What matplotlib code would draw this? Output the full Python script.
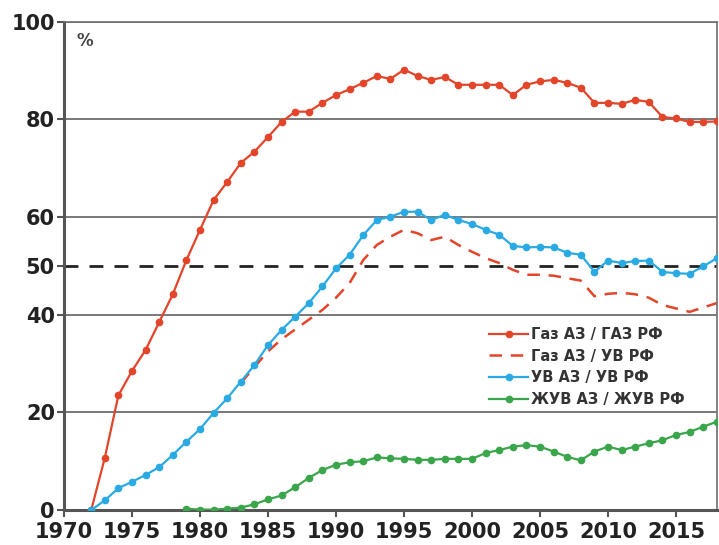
import matplotlib.pyplot as plt
from matplotlib.ticker import FixedLocator

plt.rcParams['font.family'] = ['DejaVu Sans']
plt.rcParams['font.weight'] = 'bold'

# Газ АЗ / ГАЗ РФ
gas_years = list(range(1972, 2019))
gas_gas = [0, 10.7, 23.5, 28.5, 32.8, 38.5, 44.2, 51.2, 57.4, 63.5, 67.2, 71.1, 73.4,
           76.4, 79.5, 81.6, 81.6, 83.4, 85.0, 86.2, 87.5, 88.9, 88.3, 90.2, 88.9,
           88.1, 88.7, 87.1, 87.1, 87.1, 87.1, 85.0, 87.1, 87.8, 88.1, 87.5, 86.5,
           83.4, 83.4, 83.2, 84.0, 83.6, 80.5, 80.2, 79.5, 79.5, 79.6]

# Газ АЗ / УВ РФ
gas_hc_years = list(range(1983, 2019))
gas_hc = [26.0, 29.3, 32.5, 35.0, 37.0, 39.0, 41.0, 43.5, 46.5, 51.2, 54.3, 56.0,
          57.4, 56.7, 55.3, 56.0, 54.3, 52.9, 51.6, 50.6, 49.2, 48.2, 48.2, 48.0,
          47.5, 47.0, 43.8, 44.3, 44.5, 44.2, 43.5, 42.0, 41.3, 40.6, 41.5, 42.4]

# УВ АЗ / УВ РФ
hc_years = list(range(1972, 2019))
hc_hc = [0, 2.0, 4.5, 5.8, 7.2, 8.8, 11.3, 14.0, 16.6, 19.9, 22.9, 26.3, 29.7,
         33.8, 36.9, 39.6, 42.4, 45.8, 49.5, 52.3, 56.3, 59.4, 60.1, 61.1, 61.1,
         59.4, 60.5, 59.4, 58.6, 57.4, 56.4, 54.1, 53.8, 53.9, 53.8, 52.7, 52.3,
         48.8, 51.1, 50.6, 51.0, 51.1, 48.8, 48.5, 48.4, 49.9, 51.6]

# ЖУВ АЗ / ЖУВ РФ
liq_years = list(range(1979, 2019))
liq_liq = [0.3, 0.1, 0.1, 0.3, 0.5, 1.2, 2.2, 3.0, 4.7, 6.6, 8.2, 9.3, 9.8, 10.0,
           10.8, 10.6, 10.5, 10.3, 10.3, 10.5, 10.5, 10.5, 11.7, 12.3, 13.0, 13.3,
           13.0, 12.0, 10.9, 10.2, 12.0, 13.0, 12.3, 13.0, 13.7, 14.3, 15.4, 16.0,
           17.1, 18.1]

red = '#e2452a'
blue = '#2aaae2'
green = '#3aa54a'

fig = plt.figure(figsize=(7.19, 5.45), dpi=100)
ax = fig.add_axes([0.089, 0.064, 0.908, 0.896])

for y in [20, 40, 60, 80, 100]:
    ax.axhline(y, color='#6e6e6e', lw=1.3, zorder=1)
ax.axhline(50, color='#222222', lw=2, ls=(0, (5, 4)), zorder=1)

ax.plot(gas_years, gas_gas, color=red, lw=1.6, marker='o', ms=4.5,
        label='Газ АЗ / ГАЗ РФ', zorder=3)
ax.plot(gas_hc_years, gas_hc, color=red, lw=1.8, ls=(0, (5, 3.5)),
        label='Газ АЗ / УВ РФ', zorder=2)
ax.plot(hc_years, hc_hc, color=blue, lw=1.6, marker='o', ms=4.5,
        label='УВ АЗ / УВ РФ', zorder=3)
ax.plot(liq_years, liq_liq, color=green, lw=1.6, marker='o', ms=4.5,
        label='ЖУВ АЗ / ЖУВ РФ', zorder=3)

ax.set_xlim(1970, 2018)
ax.set_ylim(0, 100)
ax.xaxis.set_major_locator(FixedLocator(range(1970, 2016, 5)))
ax.yaxis.set_major_locator(FixedLocator([0, 20, 40, 50, 60, 80, 100]))
ax.tick_params(axis='both', labelsize=15, width=1.5, length=5, color='#555555',
               labelcolor='#222222')
ax.tick_params(axis='x', pad=3.5)
ax.tick_params(axis='y', pad=1.5)

for side in ['left', 'bottom']:
    ax.spines[side].set_linewidth(2.2)
    ax.spines[side].set_color('#555555')
for side in ['top', 'right']:
    ax.spines[side].set_linewidth(1.2)
    ax.spines[side].set_color('#6e6e6e')

ax.text(1970.9, 95.0, '%', fontsize=12, fontweight='bold', color='#444444')

leg = ax.legend(loc='upper left', bbox_to_anchor=(0.64, 0.39), frameon=False,
                fontsize=10.5, handlelength=2.7, handletextpad=0.2,
                labelspacing=0.45, borderpad=0)
for t in leg.get_texts():
    t.set_color('#333333')

fig.savefig('out.png', dpi=100)
